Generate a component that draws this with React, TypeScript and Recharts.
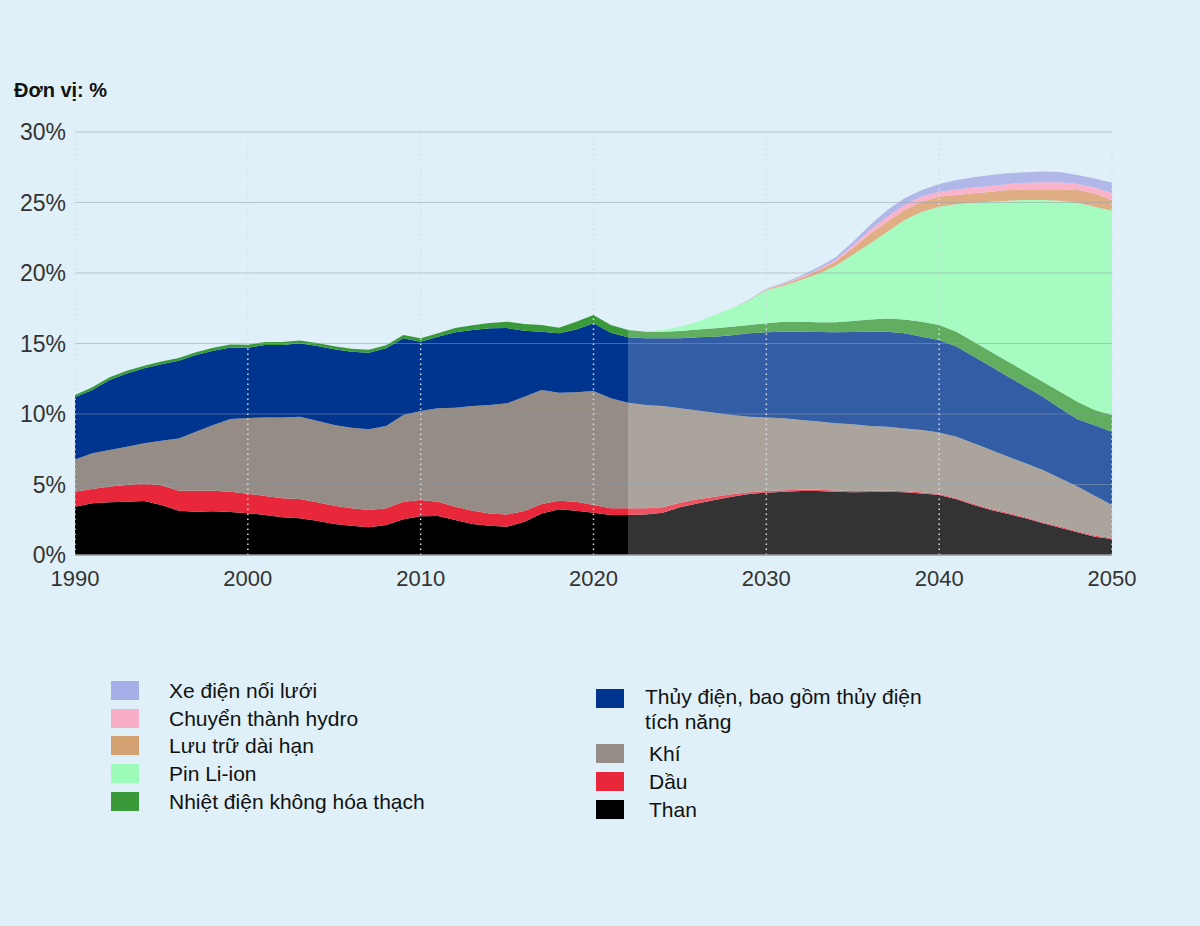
import React from 'react';
import { AreaChart, Area, XAxis, YAxis, ReferenceLine } from 'recharts';

const years = [
  1990, 1991, 1992, 1993, 1994, 1995, 1996, 1997, 1998, 1999,
  2000, 2001, 2002, 2003, 2004, 2005, 2006, 2007, 2008, 2009,
  2010, 2011, 2012, 2013, 2014, 2015, 2016, 2017, 2018, 2019,
  2020, 2021, 2022, 2023, 2024, 2025, 2026, 2027, 2028, 2029,
  2030, 2031, 2032, 2033, 2034, 2035, 2036, 2037, 2038, 2039,
  2040, 2041, 2042, 2043, 2044, 2045, 2046, 2047, 2048, 2049,
  2050,
];

// % share (stacked bottom to top)
const than = [
  3.43, 3.67, 3.74, 3.78, 3.83, 3.55, 3.14, 3.07, 3.10, 3.05,
  2.96, 2.84, 2.67, 2.60, 2.43, 2.20, 2.08, 1.96, 2.13, 2.53,
  2.75, 2.77, 2.48, 2.20, 2.08, 2.01, 2.36, 2.95, 3.24, 3.14,
  3.00, 2.84, 2.84, 2.88, 3.00, 3.38, 3.66, 3.90, 4.14, 4.33,
  4.42, 4.49, 4.54, 4.54, 4.49, 4.45, 4.47, 4.49, 4.45, 4.37,
  4.26, 3.95, 3.55, 3.19, 2.91, 2.60, 2.25, 1.94, 1.61, 1.30,
  1.13,
];
const dau = [
  1.06, 1.01, 1.11, 1.18, 1.25, 1.39, 1.42, 1.49, 1.46, 1.44,
  1.39, 1.34, 1.35, 1.37, 1.31, 1.30, 1.23, 1.23, 1.18, 1.25,
  1.15, 1.01, 0.95, 0.94, 0.87, 0.87, 0.76, 0.67, 0.61, 0.64,
  0.55, 0.47, 0.47, 0.43, 0.38, 0.33, 0.29, 0.24, 0.16, 0.12,
  0.12, 0.10, 0.08, 0.08, 0.09, 0.09, 0.08, 0.08, 0.08, 0.08,
  0.08, 0.08, 0.08, 0.08, 0.08, 0.08, 0.08, 0.08, 0.08, 0.08,
  0.07,
];
const khi = [
  2.29, 2.53, 2.60, 2.72, 2.84, 3.17, 3.71, 4.19, 4.66, 5.16,
  5.37, 5.58, 5.74, 5.84, 5.79, 5.72, 5.72, 5.72, 5.84, 6.15,
  6.31, 6.62, 7.02, 7.43, 7.69, 7.88, 8.11, 8.08, 7.66, 7.76,
  8.08, 7.80, 7.49, 7.33, 7.19, 6.69, 6.29, 5.95, 5.63, 5.36,
  5.22, 5.10, 4.95, 4.84, 4.76, 4.73, 4.60, 4.53, 4.45, 4.42,
  4.34, 4.36, 4.29, 4.18, 3.98, 3.82, 3.70, 3.42, 3.16, 2.82,
  2.35,
];
const thuyDien = [
  4.40, 4.49, 4.96, 5.20, 5.32, 5.41, 5.51, 5.43, 5.27, 5.07,
  4.98, 5.13, 5.13, 5.20, 5.29, 5.37, 5.39, 5.44, 5.51, 5.44,
  4.92, 5.08, 5.34, 5.39, 5.44, 5.34, 4.67, 4.14, 4.21, 4.46,
  4.80, 4.66, 4.65, 4.73, 4.80, 4.97, 5.20, 5.39, 5.65, 5.91,
  6.03, 6.15, 6.27, 6.36, 6.45, 6.55, 6.69, 6.74, 6.74, 6.61,
  6.57, 6.39, 6.15, 5.91, 5.68, 5.44, 5.20, 4.96, 4.77, 5.00,
  5.20,
];
const nhietDien = [
  0.17, 0.20, 0.19, 0.19, 0.19, 0.20, 0.20, 0.20, 0.21, 0.21,
  0.22, 0.21, 0.21, 0.21, 0.21, 0.21, 0.21, 0.21, 0.21, 0.23,
  0.24, 0.24, 0.31, 0.34, 0.37, 0.45, 0.48, 0.47, 0.40, 0.55,
  0.59, 0.54, 0.51, 0.47, 0.47, 0.52, 0.56, 0.60, 0.61, 0.59,
  0.64, 0.71, 0.71, 0.68, 0.71, 0.78, 0.86, 0.94, 0.99, 1.07,
  1.06, 1.06, 1.06, 1.06, 1.06, 1.06, 1.06, 1.18, 1.25, 1.08,
  1.18,
];
const pinLiIon = [
  0, 0, 0, 0, 0, 0, 0, 0, 0, 0,
  0, 0, 0, 0, 0, 0, 0, 0, 0, 0,
  0, 0, 0, 0, 0, 0, 0, 0, 0, 0,
  0, 0, 0, 0, 0.12, 0.30, 0.55, 0.94, 1.31, 1.74,
  2.35, 2.55, 2.95, 3.45, 4.00, 4.70, 5.40, 6.15, 7.05, 7.80,
  8.39, 9.03, 9.86, 10.64, 11.42, 12.18, 12.89, 13.55, 14.12, 14.42,
  14.49,
];
const luuTru = [
  0, 0, 0, 0, 0, 0, 0, 0, 0, 0,
  0, 0, 0, 0, 0, 0, 0, 0, 0, 0,
  0, 0, 0, 0, 0, 0, 0, 0, 0, 0,
  0, 0, 0, 0, 0, 0, 0, 0, 0, 0.03,
  0.06, 0.10, 0.15, 0.22, 0.30, 0.45, 0.67, 0.71, 0.71, 0.71,
  0.72, 0.66, 0.66, 0.71, 0.76, 0.75, 0.75, 0.80, 0.90, 0.95,
  0.76,
];
const chuyenHydro = [
  0, 0, 0, 0, 0, 0, 0, 0, 0, 0,
  0, 0, 0, 0, 0, 0, 0, 0, 0, 0,
  0, 0, 0, 0, 0, 0, 0, 0, 0, 0,
  0, 0, 0, 0, 0, 0, 0, 0, 0, 0.01,
  0.03, 0.05, 0.07, 0.10, 0.13, 0.20, 0.28, 0.35, 0.35, 0.36,
  0.35, 0.40, 0.42, 0.40, 0.42, 0.47, 0.50, 0.50, 0.42, 0.42,
  0.47,
];
const xeDien = [
  0, 0, 0, 0, 0, 0, 0, 0, 0, 0,
  0, 0, 0, 0, 0, 0, 0, 0, 0, 0,
  0, 0, 0, 0, 0, 0, 0, 0, 0, 0,
  0, 0, 0, 0, 0, 0, 0, 0, 0, 0.01,
  0.03, 0.05, 0.08, 0.13, 0.17, 0.25, 0.35, 0.48, 0.48, 0.47,
  0.54, 0.67, 0.72, 0.78, 0.76, 0.74, 0.76, 0.74, 0.64, 0.64,
  0.75,
];

const yTicks = [0, 5, 10, 15, 20, 25, 30];
const xTicks = [1990, 2000, 2010, 2020, 2030, 2040, 2050];
const lastActualYear = 2022;

const series = [
  { key: 'than', name: 'Than', values: than },
  { key: 'dau', name: 'Dầu', values: dau },
  { key: 'khi', name: 'Khí', values: khi },
  { key: 'thuyDien', name: 'Thủy điện, bao gồm thủy điện tích năng', values: thuyDien },
  { key: 'nhietDien', name: 'Nhiệt điện không hóa thạch', values: nhietDien },
  { key: 'pinLiIon', name: 'Pin Li-ion', values: pinLiIon },
  { key: 'luuTru', name: 'Lưu trữ dài hạn', values: luuTru },
  { key: 'chuyenHydro', name: 'Chuyển thành hydro', values: chuyenHydro },
  { key: 'xeDien', name: 'Xe điện nối lưới', values: xeDien },
];

// colours: actual period / projection period / legend swatch
const pastColor: Record<string, string> = {
  than: '#000000', dau: '#e8283a', khi: '#958d85', thuyDien: '#00358f', nhietDien: '#3a9a3a',
  pinLiIon: '#a6fbc0', luuTru: '#dfae84', chuyenHydro: '#fab3cb', xeDien: '#b2b7ea',
};
const futureColor: Record<string, string> = {
  than: '#333333', dau: '#ed5361', khi: '#aaa49d', thuyDien: '#335da5', nhietDien: '#61ae61',
  pinLiIon: '#a6fbc0', luuTru: '#dfae84', chuyenHydro: '#fab3cb', xeDien: '#b2b7ea',
};
const swatchColor: Record<string, string> = {
  than: '#000000', dau: '#e8283a', khi: '#958d86', thuyDien: '#00358f', nhietDien: '#3a9a3a',
  pinLiIon: '#9efcba', luuTru: '#d4a272', chuyenHydro: '#f9aec8', xeDien: '#a8aee8',
};

const legendLeft = ['xeDien', 'chuyenHydro', 'luuTru', 'pinLiIon', 'nhietDien'];
const legendRight = ['thuyDien', 'khi', 'dau', 'than'];

const font = '"Liberation Sans", Arial, sans-serif';

const data = years.map((year, i) => {
  const row: Record<string, number> = { year };
  series.forEach(s => { row[s.key] = s.values[i]; });
  return row;
});

const split = (lastActualYear - years[0]) / (years[years.length - 1] - years[0]);
const nameOf = (key: string) => series.find(s => s.key === key)!.name;

const Swatch = ({ color, top = 0 }: { color: string; top?: number }) => (
  <div style={{ width: 28, height: 19, background: color, flexShrink: 0, marginTop: top }} />
);

export default function App() {
  return (
    <div style={{ position: 'absolute', left: 0, top: 0, width: 1200, height: 926, background: '#dff0f8', fontFamily: font, color: '#111' }}>
      <div style={{ position: 'absolute', left: 14, top: 80, fontSize: 20, lineHeight: '20px', fontWeight: 'bold' }}>
        Đơn vị: %
      </div>

      <div style={{ position: 'absolute', left: 0, top: 0 }}>
        <AreaChart width={1200} height={610} data={data} margin={{ top: 132, right: 88, bottom: 15, left: 15 }}>
          <defs>
            {series.map(s => (
              <linearGradient key={s.key} id={`fill-${s.key}`} x1="0" y1="0" x2="1" y2="0">
                <stop offset={split} stopColor={pastColor[s.key]} />
                <stop offset={split} stopColor={futureColor[s.key]} />
              </linearGradient>
            ))}
          </defs>
          <XAxis
            dataKey="year"
            type="number"
            domain={[1990, 2050]}
            ticks={xTicks}
            height={40}
            tickSize={0}
            tickMargin={15}
            axisLine={{ stroke: '#9a9a9a', strokeWidth: 1.5 }}
            tick={{ fill: '#333', fontSize: 22, fontFamily: font }}
          />
          <YAxis
            type="number"
            domain={[0, 30]}
            ticks={yTicks}
            width={60}
            tickSize={0}
            tickMargin={9}
            axisLine={false}
            tickFormatter={(v: number) => `${v}%`}
            tick={{ fill: '#333', fontSize: 23, fontFamily: font }}
          />
          {series.map(s => (
            <Area
              key={s.key}
              type="linear"
              dataKey={s.key}
              name={s.name}
              stackId="1"
              stroke="none"
              fill={`url(#fill-${s.key})`}
              fillOpacity={1}
              dot={false}
              activeDot={false}
              isAnimationActive={false}
            />
          ))}
          {yTicks.filter(v => v > 0).map(v => (
            <ReferenceLine key={`y${v}`} y={v} stroke="#8f9ea8" strokeOpacity={0.5} strokeWidth={1} />
          ))}
          {xTicks.map(v => (
            <ReferenceLine key={`x${v}`} x={v} stroke="#d6dfe4" strokeDasharray="1.5 3.5" strokeWidth={1.5} />
          ))}
        </AreaChart>
      </div>

      <div style={{ position: 'absolute', left: 111, top: 677, fontSize: 21, lineHeight: '21px' }}>
        {legendLeft.map(key => (
          <div key={key} style={{ display: 'flex', alignItems: 'center', height: 27.6 }}>
            <Swatch color={swatchColor[key]} />
            <span style={{ marginLeft: 30 }}>{nameOf(key)}</span>
          </div>
        ))}
      </div>

      <div style={{ position: 'absolute', left: 596, top: 683.5, fontSize: 21 }}>
        {legendRight.map((key, i) =>
          i === 0 ? (
            <div key={key} style={{ display: 'flex', alignItems: 'flex-start', height: 55.5 }}>
              <Swatch color={swatchColor[key]} top={5.5} />
              <span style={{ marginLeft: 21, width: 300, lineHeight: '25px' }}>{nameOf(key)}</span>
            </div>
          ) : (
            <div key={key} style={{ display: 'flex', alignItems: 'center', height: 28, lineHeight: '21px' }}>
              <Swatch color={swatchColor[key]} />
              <span style={{ marginLeft: 25 }}>{nameOf(key)}</span>
            </div>
          )
        )}
      </div>
    </div>
  );
}
